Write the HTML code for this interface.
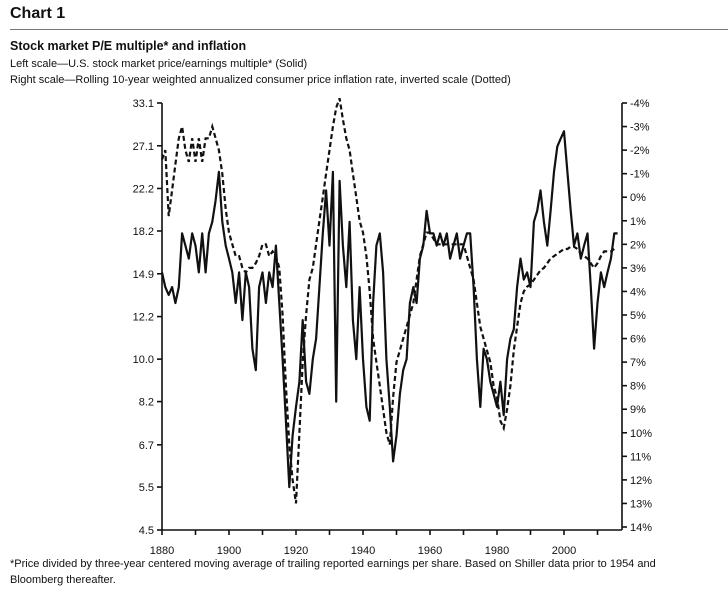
<!DOCTYPE html>
<html><head><meta charset="utf-8"><style>
body{margin:0;background:#fff;width:728px;height:601px;overflow:hidden;font-family:"Liberation Sans",sans-serif;color:#111}
.t{position:absolute;white-space:nowrap}
</style></head><body>
<div class="t" style="left:10px;top:5px;font-size:16px;font-weight:bold">Chart 1</div>
<div style="position:absolute;left:10px;top:29px;width:718px;height:1px;background:#777"></div>
<div class="t" style="left:10px;top:39px;font-size:12.5px;font-weight:bold">Stock market P/E multiple* and inflation</div>
<div class="t" style="left:10px;top:58px;font-size:11px">Left scale—U.S. stock market price/earnings multiple* (Solid)</div>
<div class="t" style="left:10px;top:74px;font-size:11px">Right scale—Rolling 10-year weighted annualized consumer price inflation rate, inverted scale (Dotted)</div>
<div class="t" style="left:10px;top:556px;font-size:11px;line-height:16px">*Price divided by three-year centered moving average of trailing reported earnings per share. Based on Shiller data prior to 1954 and<br>Bloomberg thereafter.</div>
<svg id="chart" width="728" height="601" style="position:absolute;left:0;top:0" font-family="Liberation Sans, sans-serif" font-size="11"></svg>
<script>
const peTicks=[33.1,27.1,22.2,18.2,14.9,12.2,10.0,8.2,6.7,5.5,4.5];
const infTicks=[-4,-3,-2,-1,0,1,2,3,4,5,6,7,8,9,10,11,12,13,14];
const yearTicks=[1880,1900,1920,1940,1960,1980,2000];
const peYears=[1880,1881,1882,1883,1884,1885,1886,1887,1888,1889,1890,1891,1892,1893,1894,1895,1896,1897,1898,1899,1900,1901,1902,1903,1904,1905,1906,1907,1908,1909,1910,1911,1912,1913,1914,1915,1916,1917,1918,1919,1920,1921,1922,1923,1924,1925,1926,1927,1928,1929,1930,1931,1932,1933,1934,1935,1936,1937,1938,1939,1940,1941,1942,1943,1944,1945,1946,1947,1948,1949,1950,1951,1952,1953,1954,1955,1956,1957,1958,1959,1960,1961,1962,1963,1964,1965,1966,1967,1968,1969,1970,1971,1972,1973,1974,1975,1976,1977,1978,1979,1980,1981,1982,1983,1984,1985,1986,1987,1988,1989,1990,1991,1992,1993,1994,1995,1996,1997,1998,1999,2000,2001,2002,2003,2004,2005,2006,2007,2008,2009,2010,2011,2012,2013,2014,2015,2016];
const peValues=[15,14,13.5,14,13,14,18,17,16,18,17,15,18,15,18,19,21,24,19,17,16,15,13,15,12,15,14,10.5,9.5,14,15,13,15,14,17,13,10,7.5,5.5,7,8,9,12,9,8.5,10,11,14,18,22,17,24,8.2,23,17,14,19,12,10,14,10,8,7.5,13,17,18,15,10,8,6.2,7,8.5,9.5,10,13,14,13,16,17,20,18,18,17,18,17,18,16,17,18,16,17,18,18,14,10,8,10.5,10,9,8.5,8,9,7.7,10,11,11.5,14,16,14.5,15,14,19,20,22,19,17,20,24,27,28,29,24,20,17,18,16,17,18,14,10.5,13,15,14,15,16,18,18];
const infYears=[1880,1881,1882,1883,1884,1885,1886,1887,1888,1889,1890,1891,1892,1893,1894,1895,1896,1897,1898,1899,1900,1901,1902,1903,1904,1905,1906,1907,1908,1909,1910,1911,1912,1913,1914,1915,1916,1917,1918,1919,1920,1921,1922,1923,1924,1925,1926,1927,1928,1929,1930,1931,1932,1933,1934,1935,1936,1937,1938,1939,1940,1941,1942,1943,1944,1945,1946,1947,1948,1949,1950,1951,1952,1953,1954,1955,1956,1957,1958,1959,1960,1962,1965,1968,1970,1972,1973,1974,1975,1976,1977,1978,1979,1980,1981,1982,1983,1984,1985,1986,1987,1988,1989,1990,1991,1992,1993,1994,1995,1996,1997,1998,1999,2000,2001,2002,2003,2004,2005,2006,2007,2008,2009,2010,2011,2012,2013,2014,2015];
const infValues=[-1.6,-2,0.8,-0.3,-1.4,-2.5,-3,-2,-1.5,-2.5,-1.5,-2.5,-1.5,-2.5,-2.5,-3,-2.5,-2,-1,0.5,1.5,2,2.5,2.5,3,3.2,3,3,2.8,2.5,2,2,2.5,2.3,2.5,3,5,8,10.5,12,13,10,7,5,3.5,3,2,1,0,-1,-2,-3,-3.8,-4.2,-3.3,-2.5,-2,-1,0,1,1.5,2.5,4,6,7,8,9,10,10.5,8.5,7,6.5,6,5.5,5,4.5,3.5,2.5,2,1.5,1.5,2,2,2,2,3,3.5,4.5,5.5,6,6.5,7,8,8.5,9.5,9.8,9,8,6.5,5.5,4.5,4,3.8,3.7,3.5,3.3,3.1,3,2.8,2.6,2.5,2.4,2.3,2.2,2.2,2.1,2.1,2.2,2.4,2.5,2.6,2.8,3,2.8,2.5,2.3,2.3,2.3,2.2];
const svg=document.getElementById('chart');const NS='http://www.w3.org/2000/svg';
const L=162,R=622,T=103,B=530;
const x=yr=>L+(yr-1880)*(564-162)/120;
const yPE=v=>B-(B-T)*Math.log(v/4.5)/Math.log(33.1/4.5);
const yInf=v=>T+(v+4)*(527-T)/18;
function mk(tag,attrs,parent){const e=document.createElementNS(NS,tag);for(const k in attrs)e.setAttribute(k,attrs[k]);(parent||svg).appendChild(e);return e;}
const ax=mk('g',{stroke:'#111','stroke-width':1.6,fill:'none'});


mk('path',{d:`M${L},${T}V${B}H${R}M${R},${T}V${B}`},ax);
peTicks.forEach(v=>{const yy=yPE(v);mk('path',{d:`M${L-5},${yy}H${L}`},ax);
const t=mk('text',{x:L-8,y:yy+4,'text-anchor':'end',fill:'#111',stroke:'none'});t.textContent=v.toFixed(1);

});
infTicks.forEach(v=>{const yy=yInf(v);mk('path',{d:`M${R},${yy}H${R+5}`},ax);
const t=mk('text',{x:R+8,y:yy+4,fill:'#111',stroke:'none'});t.textContent=v+'%';

});
for(let yr=1880;yr<=2010;yr+=10){mk('path',{d:`M${x(yr)},${B}V${B+5}`},ax);}
yearTicks.forEach(yr=>{const t=mk('text',{x:x(yr),y:B+24,'text-anchor':'middle',fill:'#111',stroke:'none'});t.textContent=yr;

});
const d1=infYears.map((yr,i)=>(i?'L':'M')+x(yr).toFixed(1)+','+yInf(infValues[i]).toFixed(1)).join('');
const p1=mk('path',{d:d1,stroke:'#111','stroke-width':2.2,fill:'none','stroke-dasharray':'5,3'});


const d2=peYears.map((yr,i)=>(i?'L':'M')+x(yr).toFixed(1)+','+yPE(peValues[i]).toFixed(1)).join('');
const p2=mk('path',{d:d2,stroke:'#111','stroke-width':2.2,fill:'none','stroke-linejoin':'round'});


</script>
</body></html>
